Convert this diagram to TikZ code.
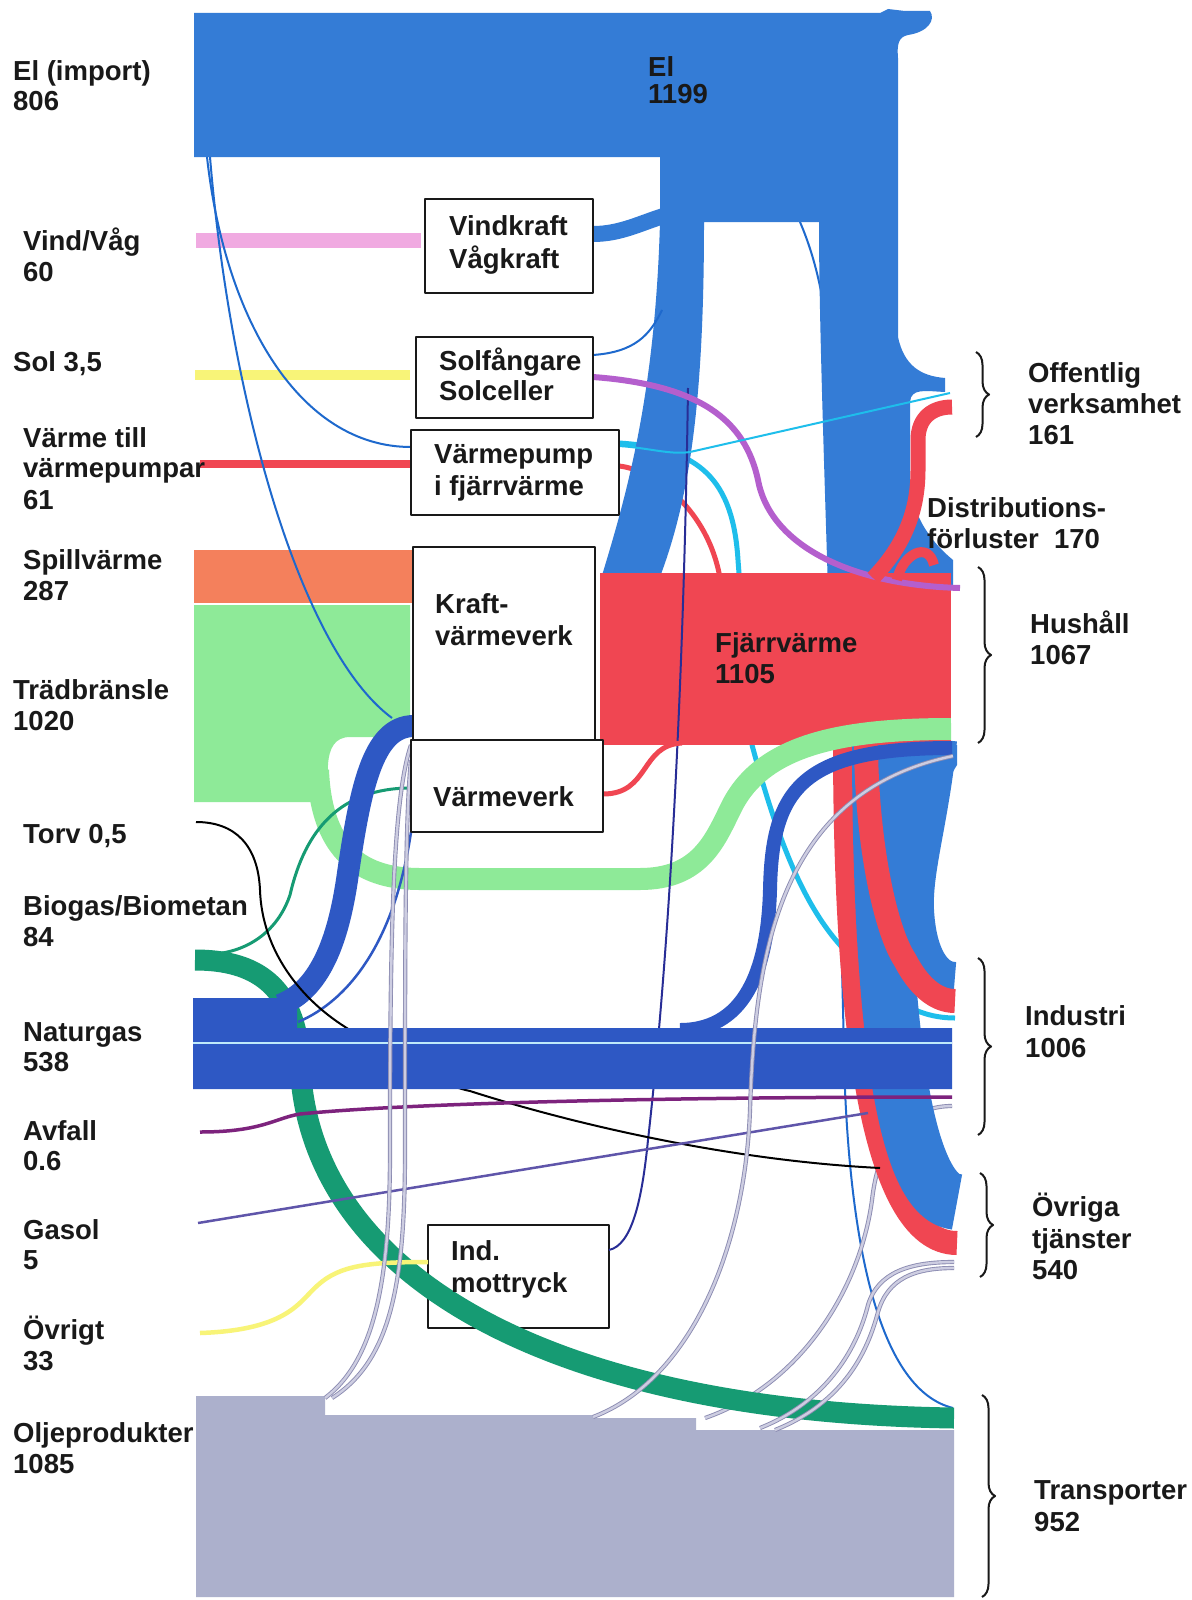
\documentclass[tikz,border=0pt]{standalone}
\usepackage{fontspec}
\setmainfont{Liberation Sans}
\usetikzlibrary{decorations.pathreplacing}
\definecolor{elB}{RGB}{52,124,214}
\definecolor{elT}{RGB}{30,105,205}
\definecolor{ngB}{RGB}{46,88,196}
\definecolor{navy}{RGB}{40,45,150}
\definecolor{fjR}{RGB}{240,70,82}
\definecolor{spO}{RGB}{244,128,92}
\definecolor{trG}{RGB}{142,234,152}
\definecolor{bioG}{RGB}{22,155,115}
\definecolor{oilG}{RGB}{172,176,204}
\definecolor{oilD}{RGB}{140,140,178}
\definecolor{oilL}{RGB}{205,205,225}
\definecolor{pinkV}{RGB}{240,170,225}
\definecolor{yelS}{RGB}{248,244,120}
\definecolor{cyanV}{RGB}{30,190,235}
\definecolor{purS}{RGB}{180,95,205}
\definecolor{purA}{RGB}{125,35,125}
\definecolor{gasP}{RGB}{95,85,170}
\definecolor{ink}{RGB}{25,25,25}
\tikzset{
  txt/.style={font=\bfseries\fontsize{27.5}{31}\selectfont, inner sep=0pt, text=ink, anchor=base west},
  box/.style={draw=ink, line width=2.2pt, fill=white, inner sep=0pt},
  bracestyle/.style={decorate, decoration={brace, amplitude=13pt}, line width=2pt, draw=ink},
  oilline/.style={draw=oilD, double=oilL, double distance=2.4pt, line width=0.9pt}
}
\newcommand{\lbl}[4]{\node[txt] (#1) at (#2,#3) {#4};}
\begin{document}
\begin{tikzpicture}[x=1pt,y=-1pt,line join=round]
\useasboundingbox (0,0) rectangle (1191,1600);
\fill[white] (0,0) rectangle (1191,1600);

% Ind. mottryck box (under the biogas band)
\node[box, minimum width=181pt, minimum height=103pt] (indbox) at (518.5,1276.5) {};

% lines lying underneath
\draw[elT, line width=2pt] (800,222) .. controls (812,250) and (820,280) .. (826,320) -- (845,1090) .. controls (852,1250) and (880,1390) .. (953,1408);
\draw[oilline] (705,1418) .. controls (800,1385) and (860,1290) .. (872,1200) .. controls (880,1130) and (915,1106) .. (952,1106);
\draw[cyanV, line width=5pt] (619,443) .. controls (700,448) and (733,480) .. (738,560) -- (752,745) .. controls (775,830) and (800,900) .. (840,945) .. controls (875,985) and (905,1018) .. (955,1018);
\draw[fjR, line width=5pt] (619,466) .. controls (655,470) and (708,510) .. (720,578);

% El
\fill[elB] (194,13) -- (880,13) -- (888,9) -- (905,11) -- (930,11) .. controls (936,20) and (928,32) .. (908,35) .. controls (898,37) and (897,45) .. (898,58) -- (898,337) .. controls (904,365) and (920,376) .. (945,378) -- (945,392) .. controls (925,391) and (911,388) .. (910,402) -- (910,480) .. controls (912,520) and (935,545) .. (953,560) -- (953,590) -- (828,590) .. controls (822,400) and (819,300) .. (819,222) -- (704,222) .. controls (704,400) and (690,500) .. (658,582) -- (600,582) .. controls (625,500) and (655,400) .. (660,222) -- (660,157) -- (194,157) -- cycle;

% flows below Fjaerrvaerme
\fill[elB] (900,745) -- (957,745) -- (957,765) .. controls (935,800) and (925,850) .. (922,890) -- (900,890) -- cycle;
\draw[fjR, line width=24pt] (845,740) .. controls (845,1000) and (868,1243) .. (957,1243);
\draw[elB, line width=56pt] (880,740) .. controls (880,960) and (895,1198) .. (957,1202);
\draw[elB, line width=28pt] (943,740) .. controls (935,820) and (918,870) .. (920,910) .. controls (922,950) and (935,976) .. (955,976);
\draw[fjR, line width=24pt] (866,740) .. controls (866,840) and (885,930) .. (905,960) .. controls (918,985) and (935,1001) .. (955,1001);

% Fjaerrvaerme
\fill[fjR] (600,573) rectangle (951,745);

% Spillvaerme, Traedbraensle
\fill[spO] (194,550) rectangle (415,603);
\fill[trG] (194,605) -- (410,605) -- (410,737) -- (350,737) .. controls (335,737) and (329,748) .. (328,765) -- (327,802) -- (194,802) -- cycle;
\draw[trG, line width=22pt] (318,770) .. controls (321,845) and (355,879) .. (420,879) -- (640,879) .. controls (700,879) and (715,840) .. (730,810) .. controls (760,745) and (840,729) .. (951,729);

% Ind. mottryck line
\draw[navy, line width=2pt] (609,1250) .. controls (632,1245) and (642,1200) .. (648,1140) .. controls (675,900) and (685,600) .. (688,388);

% Biogas
\draw[bioG, line width=21pt] (195,960) .. controls (255,960) and (295,985) .. (300,1060) .. controls (305,1270) and (540,1412) .. (954,1418);
\draw[bioG, line width=3pt] (215,954) .. controls (255,950) and (280,925) .. (290,895) .. controls (305,830) and (340,788) .. (411,788);

% Naturgas
\draw[ngB, line width=22pt] (280,1005) .. controls (320,990) and (338,940) .. (347,880) .. controls (360,790) and (372,726) .. (414,726);
\draw[ngB, line width=2.5pt] (298,1022) .. controls (350,1000) and (395,940) .. (411,832);
\draw[black, line width=2pt] (196,822) .. controls (235,822) and (258,845) .. (260,890) .. controls (262,950) and (300,1000) .. (350,1030) .. controls (400,1060) and (440,1085) .. (470,1091) .. controls (560,1120) and (720,1160) .. (880,1168);
\fill[ngB] (193,998) -- (297,998) -- (297,1028) -- (952,1028) -- (952,1089) -- (193,1089) -- cycle;
\draw[white!75!cyan, line width=1.2pt] (193,1043) -- (952,1043);
\draw[ngB, line width=14pt] (680,1030) .. controls (750,1030) and (768,960) .. (770,890) .. controls (772,790) and (800,748) .. (952,748);

% Avfall, Gasol, Oevrigt
\draw[purA, line width=3.5pt] (200,1132) .. controls (262,1132) and (275,1118) .. (300,1114) .. controls (420,1102) and (700,1097) .. (952,1097);
\draw[gasP, line width=2.5pt] (198,1223) -- (868,1113);
\draw[yelS, line width=4.5pt] (200,1333) .. controls (290,1330) and (300,1300) .. (318,1285) .. controls (340,1265) and (370,1262) .. (428,1262);

% Oljeprodukter
\fill[oilG] (196,1396) -- (325,1396) -- (325,1415) -- (593,1415) -- (593,1418) -- (696,1418) -- (696,1430) -- (954,1430) -- (954,1597) -- (196,1597) -- cycle;
\draw[oilline] (325,1398) .. controls (375,1360) and (390,1280) .. (390,1150) .. controls (390,950) and (392,800) .. (411,745);
\draw[oilline] (332,1398) .. controls (392,1360) and (405,1280) .. (405,1150) .. controls (405,950) and (405,820) .. (411,760);
\draw[oilline] (593,1417) .. controls (690,1380) and (745,1250) .. (750,1110) .. controls (755,950) and (780,792) .. (953,756);
\draw[oilline] (760,1428) .. controls (830,1400) and (858,1345) .. (868,1305) .. controls (878,1272) and (910,1262) .. (954,1262);
\draw[oilline] (775,1430) .. controls (845,1402) and (868,1350) .. (878,1312) .. controls (888,1278) and (915,1268) .. (954,1268);

% top-left sources
\fill[pinkV] (196,233) rectangle (421,248);
\fill[yelS] (195,370) rectangle (410,380);
\fill[fjR] (200,460) rectangle (411,468);

% El thin lines and small flows
\draw[elT, line width=2pt] (207,157) .. controls (225,320) and (300,447) .. (411,447);
\draw[elT, line width=2pt] (210,157) .. controls (230,400) and (300,650) .. (392,718);
\draw[elB, line width=16pt] (593,234) .. controls (622,234) and (642,222) .. (670,214);
\draw[elT, line width=2pt] (593,355) .. controls (635,352) and (650,335) .. (662,310);
\draw[purS, line width=6pt] (593,377) .. controls (700,385) and (745,420) .. (758,480) .. controls (770,545) and (850,585) .. (960,588);
\draw[cyanV, line width=2pt] (619,446) .. controls (650,448) and (670,455) .. (690,452) -- (950,393);
\draw[fjR, line width=15pt] (873,578) .. controls (905,545) and (918,510) .. (918,470) -- (918,440) .. controls (918,418) and (932,407) .. (952,407);
\draw[fjR, line width=10pt] (897,580) .. controls (902,555) and (928,540) .. (934,565);
\draw[fjR, line width=5pt] (603,794) .. controls (650,794) and (640,745) .. (682,743);

% boxes
\node[box, minimum width=168pt, minimum height=94pt] (vindbox) at (509,246) {};
\node[box, minimum width=177pt, minimum height=81pt] (solbox) at (504.5,377.5) {};
\node[box, minimum width=208pt, minimum height=85pt] (vpbox) at (515,472.5) {};
\node[box, minimum width=182pt, minimum height=193pt] (kvvbox) at (504,643.5) {};
\node[box, minimum width=192pt, minimum height=92pt] (vvbox) at (507,786) {};

% braces
\draw[bracestyle] (976,352) -- (976,437);
\draw[bracestyle] (978,567) -- (978,743);
\draw[bracestyle] (978,958) -- (978,1135);
\draw[bracestyle] (980,1173) -- (980,1277);
\draw[bracestyle] (982,1395) -- (982,1597);

% left labels
\lbl{elA}{13}{81}{El (import)}
\lbl{elB2}{13}{111}{806}
\lbl{vindA}{23}{250}{Vind/Våg}
\lbl{vindB}{23}{281}{60}
\lbl{solA}{13}{371}{Sol 3,5}
\lbl{vtA}{23}{447}{Värme till}
\lbl{vtB}{23}{477}{värmepumpar}
\lbl{vtC}{23}{509}{61}
\lbl{spA}{23}{569}{Spillvärme}
\lbl{spB}{23}{600}{287}
\lbl{trA}{13}{699}{Trädbränsle}
\lbl{trB}{13}{730}{1020}
\lbl{toA}{23}{843}{Torv 0,5}
\lbl{biA}{23}{915}{Biogas/Biometan}
\lbl{biB}{23}{946}{84}
\lbl{ngA}{23}{1041}{Naturgas}
\lbl{ngB2}{23}{1071}{538}
\lbl{avA}{23}{1140}{Avfall}
\lbl{avB}{23}{1170}{0.6}
\lbl{gaA}{23}{1239}{Gasol}
\lbl{gaB}{23}{1269}{5}
\lbl{ovA}{23}{1339}{Övrigt}
\lbl{ovB}{23}{1370}{33}
\lbl{olA}{13}{1442}{Oljeprodukter}
\lbl{olB}{13}{1473}{1085}

% right labels
\lbl{ofA}{1028}{382}{Offentlig}
\lbl{ofB}{1028}{413}{verksamhet}
\lbl{ofC}{1028}{444}{161}
\lbl{diA}{927}{517}{Distributions-}
\lbl{diB}{927}{548}{förluster\ \ 170}
\lbl{huA}{1030}{633}{Hushåll}
\lbl{huB}{1030}{664}{1067}
\lbl{inA}{1025}{1025}{Industri}
\lbl{inB}{1025}{1057}{1006}
\lbl{otA}{1032}{1216}{Övriga}
\lbl{otB}{1032}{1248}{tjänster}
\lbl{otC}{1032}{1279}{540}
\lbl{tpA}{1034}{1499}{Transporter}
\lbl{tpB}{1034}{1531}{952}

% inner labels
\lbl{elx}{648}{77}{El}
\lbl{ely}{648}{104}{1199}
\lbl{fjA}{715}{652}{Fjärrvärme}
\lbl{fjB}{715}{683}{1105}

% box labels
\lbl{bvA}{449}{235}{Vindkraft}
\lbl{bvB}{449}{268}{Vågkraft}
\lbl{bsA}{439}{370}{Solfångare}
\lbl{bsB}{439}{400}{Solceller}
\lbl{bpA}{434}{463}{Värmepump}
\lbl{bpB}{434}{495}{i fjärrvärme}
\lbl{bkA}{435}{613}{Kraft-}
\lbl{bkB}{435}{645}{värmeverk}
\lbl{bwA}{433}{806}{Värmeverk}
\lbl{biA2}{451}{1260}{Ind.}
\lbl{biB2}{451}{1292}{mottryck}
\end{tikzpicture}
\end{document}
